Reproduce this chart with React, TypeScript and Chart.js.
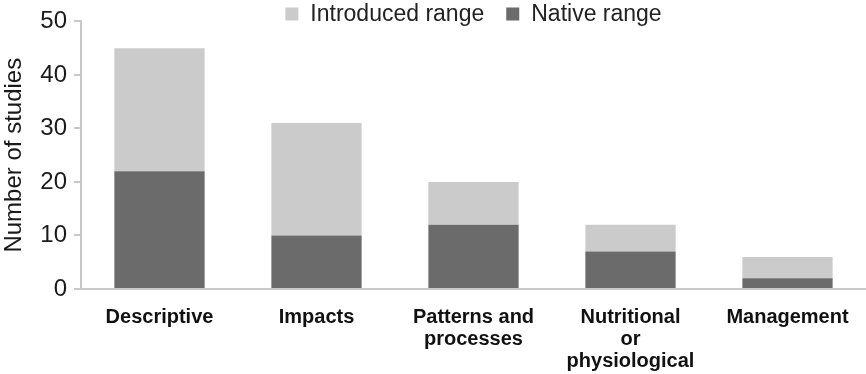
import React, { useEffect, useRef } from "react";
import { Chart, registerables } from "chart.js";

Chart.register(...registerables);

const categories: (string | string[])[] = [
  "Descriptive",
  "Impacts",
  ["Patterns and", "processes"],
  ["Nutritional", "or", "physiological"],
  "Management",
];
const nativeRange = [22, 10, 12, 7, 2];
const introducedRange = [23, 21, 8, 5, 4];
const yTicks = [0, 10, 20, 30, 40, 50];

const FONT = "'Liberation Sans', Arial, Helvetica, sans-serif";

const topLegend = {
  id: "topLegend",
  afterDraw(chart: any) {
    const ctx = chart.ctx;
    const items = [chart.data.datasets[1], chart.data.datasets[0]];
    ctx.save();
    ctx.font = `23px ${FONT}`;
    const box = 13;
    const gapBoxText = 12;
    const gapItems = 22;
    const widths = items.map((d: any) => box + gapBoxText + ctx.measureText(d.label).width);
    const total = widths.reduce((a: number, b: number) => a + b, 0) + gapItems * (items.length - 1);
    const area = chart.chartArea;
    let x = (area.left + area.right) / 2 - total / 2;
    const cy = 14;
    items.forEach((d: any, i: number) => {
      ctx.fillStyle = d.backgroundColor;
      ctx.fillRect(x, cy - box / 2, box, box);
      ctx.fillStyle = "#222";
      ctx.textBaseline = "middle";
      ctx.textAlign = "left";
      ctx.fillText(d.label, x + box + gapBoxText, cy + 1);
      x += widths[i] + gapItems;
    });
    ctx.restore();
  },
};

function BarChart() {
  const ref = useRef<HTMLCanvasElement | null>(null);
  useEffect(() => {
    if (!ref.current) return;
    const chart = new Chart(ref.current, {
      type: "bar",
      data: {
        labels: categories,
        datasets: [
          {
            label: "Native range",
            data: nativeRange,
            backgroundColor: "#6b6b6b",
            borderWidth: 0,
          },
          {
            label: "Introduced range",
            data: introducedRange,
            backgroundColor: "#cbcbcb",
            borderWidth: 0,
          },
        ],
      },
      options: {
        responsive: false,
        animation: false,
        devicePixelRatio: 1,
        layout: { padding: { top: 21, right: 0, left: 0, bottom: 0 } },
        plugins: {
          legend: { display: false },
          tooltip: { enabled: false },
        },
        datasets: {
          bar: { categoryPercentage: 1, barPercentage: 0.575 },
        },
        scales: {
          x: {
            stacked: true,
            grid: { display: false },
            border: { display: true, color: "#c8c8c8", width: 2 },
            ticks: {
              color: "#111",
              font: { family: FONT, size: 20, weight: "bold", lineHeight: 1.08 },
              padding: 10,
              maxRotation: 0,
              autoSkip: false,
            },
            afterFit(scale: any) {
              scale.height = 85;
            },
          },
          y: {
            stacked: true,
            min: 0,
            max: 50,
            afterBuildTicks(scale: any) {
              scale.ticks = yTicks.map((v) => ({ value: v }));
            },
            grid: {
              display: true,
              drawOnChartArea: false,
              drawTicks: true,
              tickLength: 7,
              color: "#c8c8c8",
              lineWidth: 2,
            },
            border: { display: true, color: "#c8c8c8", width: 2 },
            ticks: {
              color: "#1a1a1a",
              font: { family: FONT, size: 24 },
              padding: 7,
            },
            title: {
              display: true,
              text: "Number of studies",
              color: "#1a1a1a",
              font: { family: FONT, size: 24 },
              padding: { top: 0, bottom: 0 },
            },
            afterFit(scale: any) {
              scale.width = 81;
            },
          },
        },
      },
      plugins: [topLegend],
    });
    return () => chart.destroy();
  }, []);
  return <canvas ref={ref} width={866} height={374} />;
}

export default function App() {
  return (
    <div style={{ position: "fixed", left: 0, top: 0, width: 866, height: 374, background: "#fff" }}>
      <BarChart />
    </div>
  );
}
